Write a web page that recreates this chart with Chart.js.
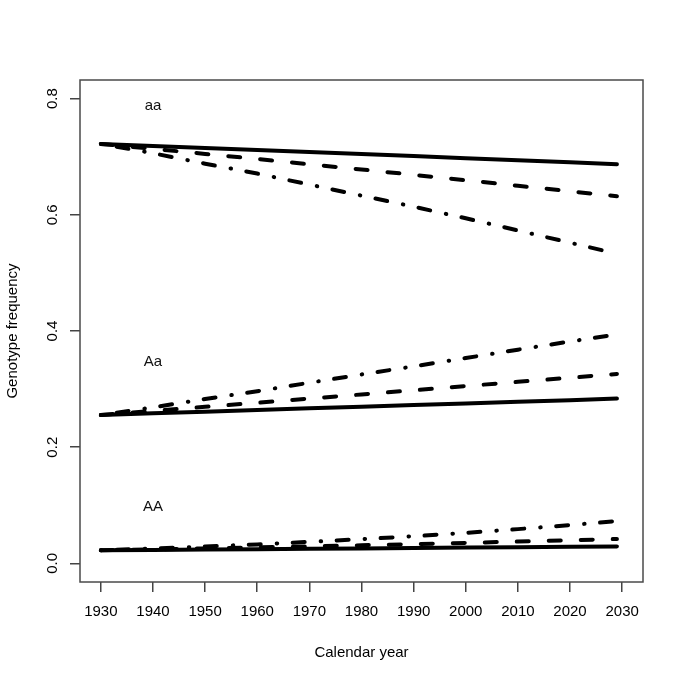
<!DOCTYPE html>
<html>
<head>
<meta charset="utf-8">
<script src="https://cdn.jsdelivr.net/npm/chart.js@4.4.1/dist/chart.umd.min.js"></script>
<style>
  html, body { margin: 0; padding: 0; background: #ffffff; }
  #wrap { width: 685px; height: 683px; }
</style>
</head>
<body>
<div id="wrap"><canvas id="c" width="685" height="683"></canvas></div>
<script>
// ---- data ----
const years = [1930, 1940, 1950, 1960, 1970, 1980, 1990, 2000, 2010, 2020, 2029];

// genotype aa
const aaSolid   = [0.722, 0.7185, 0.715, 0.7115, 0.708, 0.7045, 0.701, 0.6975, 0.694, 0.6905, 0.687];
const aaDashed  = [0.722, 0.7135, 0.7048, 0.696, 0.687, 0.678, 0.6688, 0.6595, 0.650, 0.6405, 0.632];
const aaDashDot = [0.722, 0.706, 0.688, 0.671, 0.652, 0.633, 0.614, 0.594, 0.573, 0.552, 0.533];

// genotype Aa
const AaSolid   = [0.2554, 0.2584, 0.2611, 0.2640, 0.2669, 0.2698, 0.2725, 0.2753, 0.2781, 0.2809, 0.2837];
const AaDashed  = [0.2554, 0.2624, 0.2695, 0.2765, 0.2837, 0.2908, 0.2980, 0.3052, 0.3125, 0.3196, 0.3260];
const AaDashDot = [0.2554, 0.2685, 0.2829, 0.2964, 0.3109, 0.3252, 0.3391, 0.3534, 0.3679, 0.3819, 0.3941];

// genotype AA
const AASolid   = [0.0226, 0.0232, 0.0238, 0.0245, 0.0252, 0.0258, 0.0265, 0.0272, 0.0279, 0.0286, 0.0293];
const AADashed  = [0.0226, 0.0241, 0.0258, 0.0275, 0.0293, 0.0312, 0.0332, 0.0353, 0.0376, 0.0399, 0.0420];
const AADashDot = [0.0226, 0.0255, 0.0291, 0.0327, 0.0371, 0.0418, 0.0468, 0.0526, 0.0590, 0.0660, 0.0728];

const xTicks = [1930, 1940, 1950, 1960, 1970, 1980, 1990, 2000, 2010, 2020, 2030];
const yTicks = [0.0, 0.2, 0.4, 0.6, 0.8];
const yTickLabels = ["0.0", "0.2", "0.4", "0.6", "0.8"];

const genoLabels = ["aa", "Aa", "AA"];
const genoLabelYear = [1940, 1940, 1940];
const genoLabelFreq = [0.79, 0.35, 0.10];

const xTitle = "Calendar year";
const yTitle = "Genotype frequency";

// ---- styles ----
const FONT = "'Liberation Sans', Arial, Helvetica, sans-serif";
const DASHED = [12, 20];
const DASHDOT = [0.5, 15.5, 12, 16];

function series(vals, dash) {
  return {
    data: years.map((x, i) => ({ x: x, y: vals[i] })),
    borderColor: '#000000',
    backgroundColor: '#000000',
    borderWidth: 4,
    borderDash: dash,
    borderCapStyle: 'round',
    borderJoinStyle: 'round',
    pointRadius: 0,
    pointHoverRadius: 0,
    tension: 0,
    fill: false
  };
}

const datasets = [
  series(aaSolid, []), series(aaDashed, DASHED), series(aaDashDot, DASHDOT),
  series(AaSolid, []), series(AaDashed, DASHED), series(AaDashDot, DASHDOT),
  series(AASolid, []), series(AADashed, DASHED), series(AADashDot, DASHDOT)
];

const overlay = {
  id: 'overlay',
  afterDraw(chart) {
    const ctx = chart.ctx;
    const a = chart.chartArea;
    const xs = chart.scales.x, ys = chart.scales.y;
    ctx.save();
    // plot box
    ctx.strokeStyle = '#4a4a4a';
    ctx.lineWidth = 1.5;
    ctx.strokeRect(a.left, a.top, a.right - a.left, a.bottom - a.top);
    // rotated y tick labels
    ctx.fillStyle = '#000000';
    ctx.font = '15px ' + FONT;
    ctx.textAlign = 'center';
    ctx.textBaseline = 'alphabetic';
    yTicks.forEach((v, i) => {
      const py = ys.getPixelForValue(v);
      ctx.save();
      ctx.translate(a.left - 23, py);
      ctx.rotate(-Math.PI / 2);
      ctx.fillText(yTickLabels[i], 0, 0);
      ctx.restore();
    });
    // genotype labels
    ctx.fillStyle = '#111111';
    genoLabels.forEach((t, i) => {
      const px = xs.getPixelForValue(genoLabelYear[i]);
      const py = ys.getPixelForValue(genoLabelFreq[i]);
      ctx.fillText(t, px, py + 5.5);
    });
    ctx.restore();
  }
};

new Chart(document.getElementById('c'), {
  type: 'line',
  data: { datasets: datasets },
  options: {
    responsive: false,
    animation: false,
    devicePixelRatio: 1,
    layout: { padding: { top: 80, right: 42, left: 0, bottom: 0 } },
    plugins: { legend: { display: false }, tooltip: { enabled: false }, title: { display: false } },
    scales: {
      x: {
        type: 'linear',
        min: 1926, max: 2034,
        afterBuildTicks: (s) => { s.ticks = xTicks.map(v => ({ value: v })); },
        afterFit: (s) => { s.height = 101; },
        ticks: {
          color: '#000000',
          font: { family: FONT, size: 15 },
          padding: 11,
          maxRotation: 0, minRotation: 0,
          autoSkip: false,
          callback: (v) => String(v)
        },
        grid: { drawOnChartArea: false, drawTicks: true, tickLength: 10, color: '#444444', lineWidth: 1.5 },
        border: { display: false },
        title: {
          display: true, text: xTitle, color: '#000000',
          font: { family: FONT, size: 15 },
          padding: { top: 0, bottom: 21 }
        }
      },
      y: {
        type: 'linear',
        min: -0.032, max: 0.832,
        afterBuildTicks: (s) => { s.ticks = yTicks.map(v => ({ value: v })); },
        afterFit: (s) => { s.width = 80; },
        ticks: { display: false },
        grid: { drawOnChartArea: false, drawTicks: true, tickLength: 10, color: '#444444', lineWidth: 1.5 },
        border: { display: false },
        title: {
          display: true, text: yTitle, color: '#000000',
          font: { family: FONT, size: 15 },
          padding: { top: 4, bottom: 0 }
        }
      }
    }
  },
  plugins: [overlay]
});
</script>
</body>
</html>
